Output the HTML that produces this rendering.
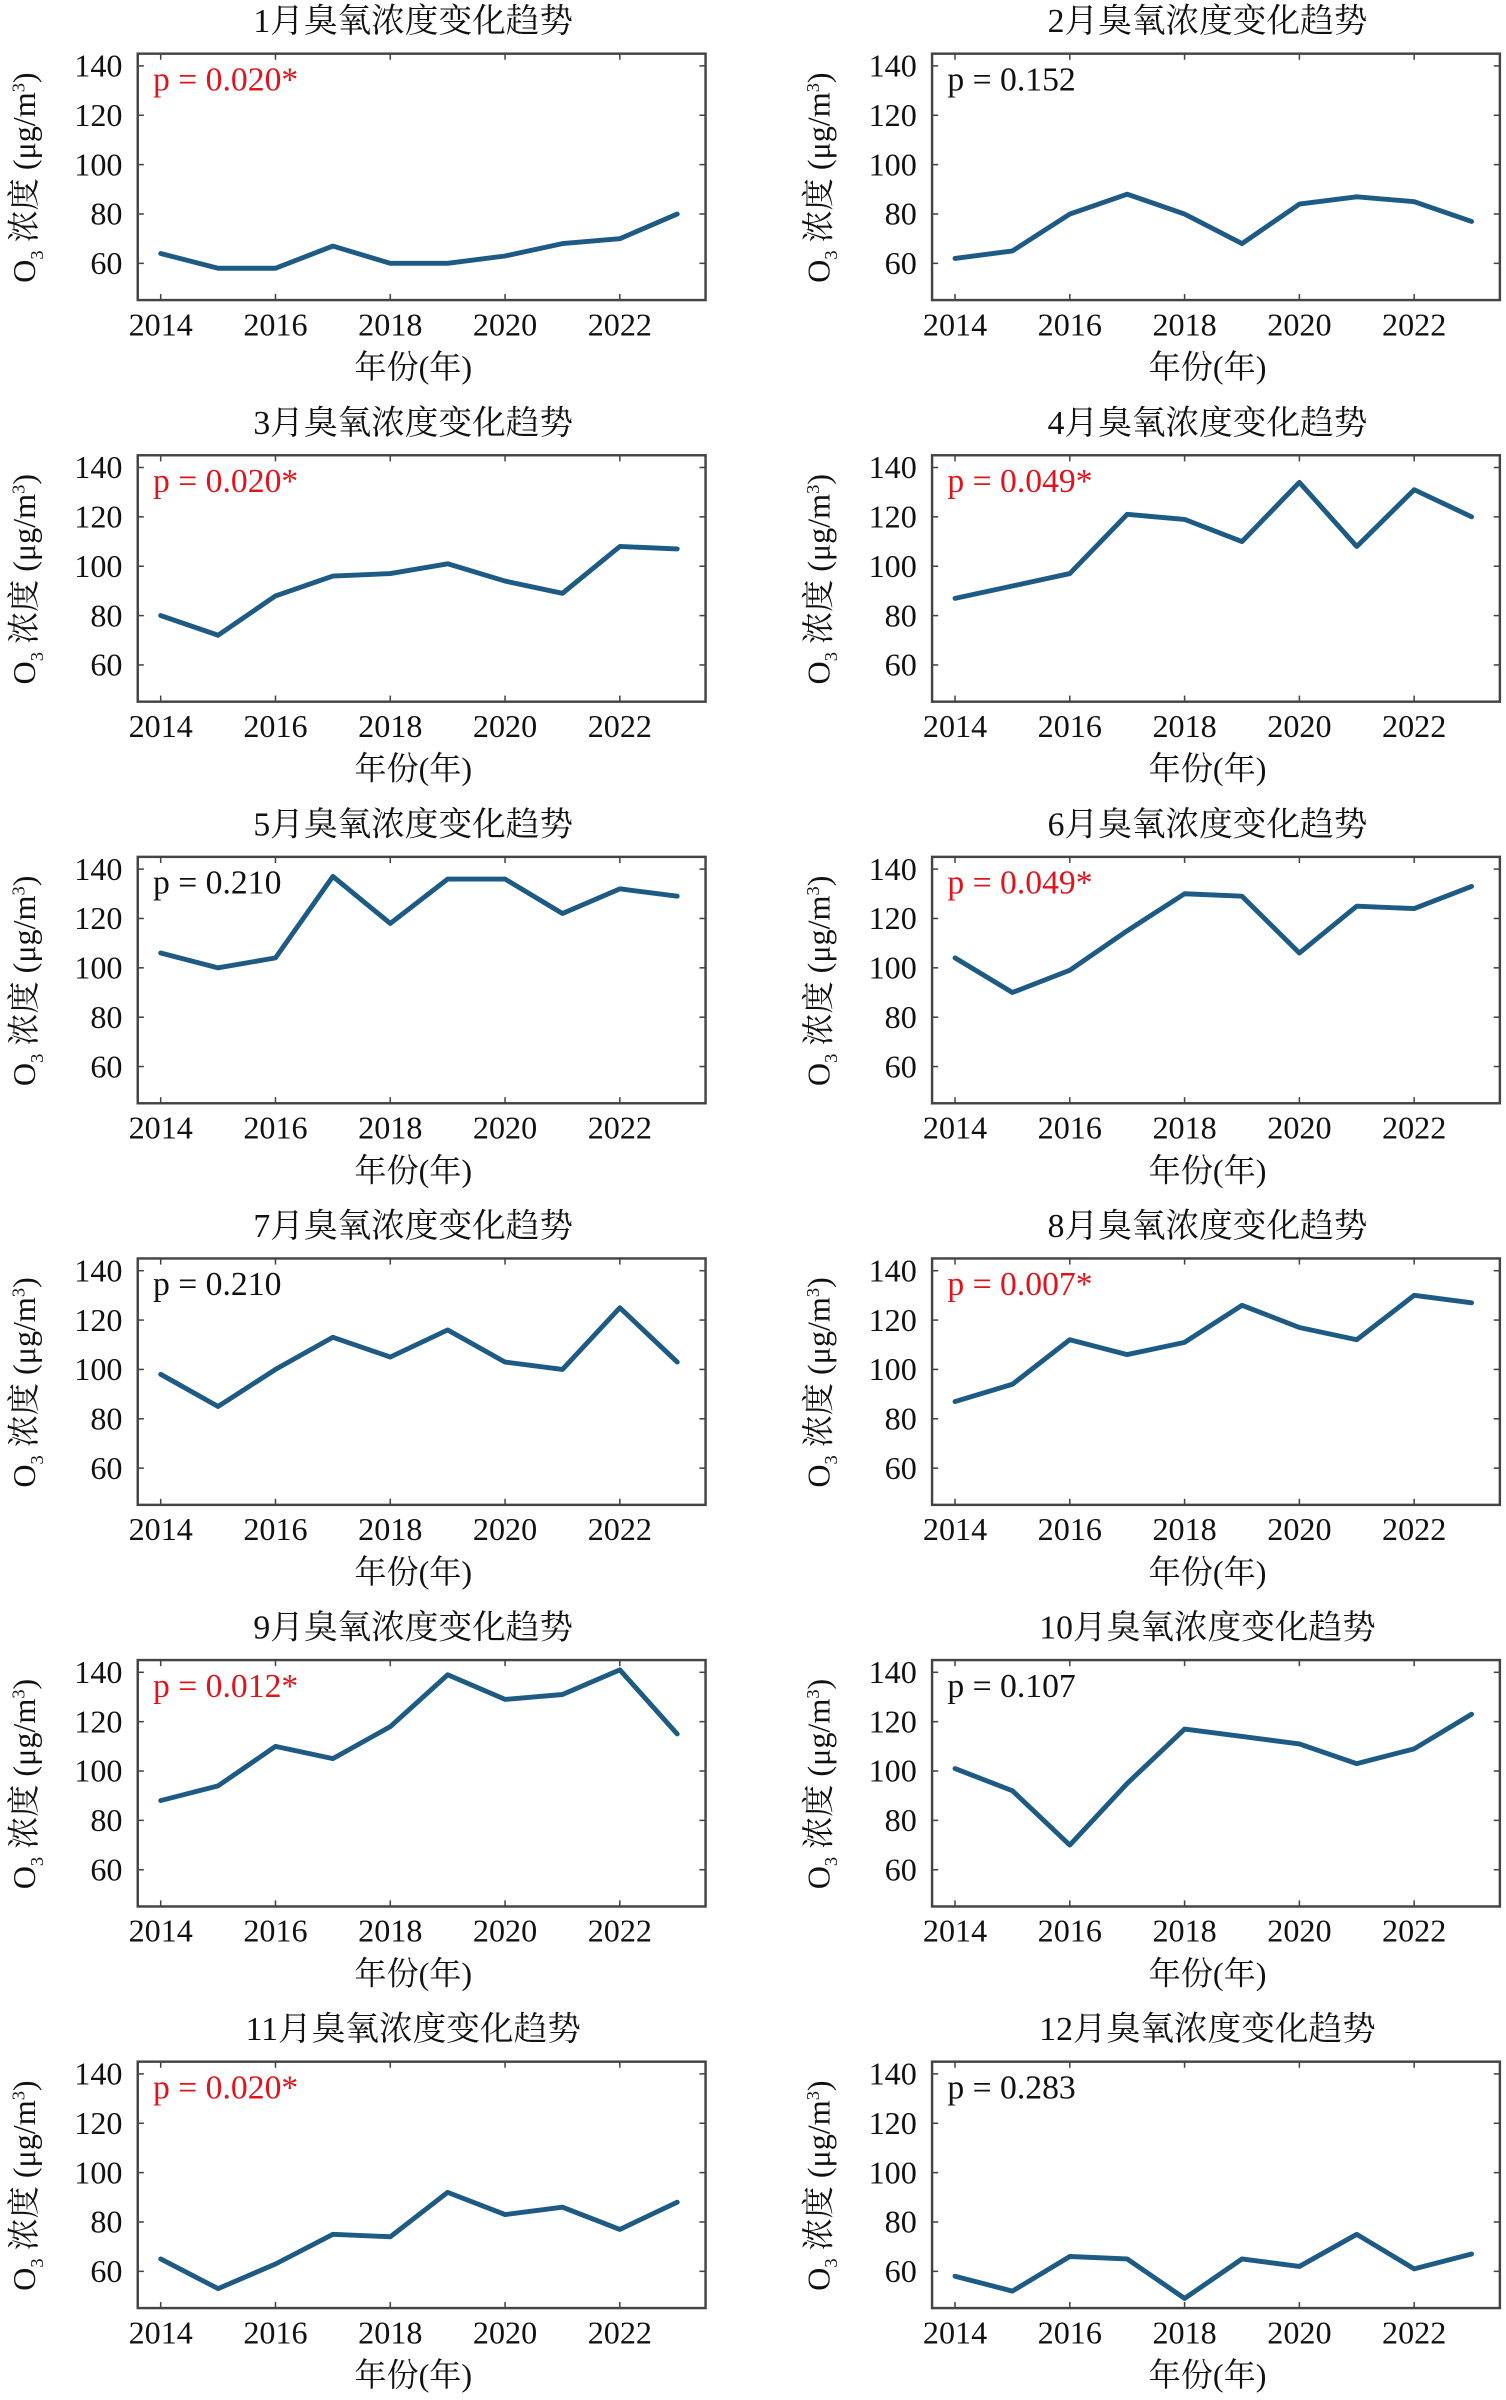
<!DOCTYPE html>
<html><head><meta charset="utf-8"><style>
html,body{margin:0;padding:0;background:#fff;}
svg{display:block;}
text{font-family:"Liberation Serif","Noto Serif CJK SC",serif;}
</style></head><body>
<svg id="chart" width="1506" height="2400" viewBox="0 0 984 1568" xmlns="http://www.w3.org/2000/svg"></svg>
<script>
const years = [2014,2015,2016,2017,2018,2019,2020,2021,2022,2023];
const xTicks = [2014,2016,2018,2020,2022];
const yTicks = [60,80,100,120,140];
const months = ["1月","2月","3月","4月","5月","6月","7月","8月","9月","10月","11月","12月"];
const pValues = ["0.020*","0.152","0.020*","0.049*","0.210","0.049*","0.210","0.007*","0.012*","0.107","0.020*","0.283"];
const significant = [true,false,true,true,false,true,false,true,true,false,true,false];
const jan = [64,58,58,67,60,60,63,68,70,80];
const feb = [62,65,80,88,80,68,84,87,85,77];
const mar = [80,72,88,96,97,101,94,89,108,107];
const apr = [87,92,97,121,119,110,134,108,131,120];
const may = [106,100,104,137,118,136,136,122,132,129];
const jun = [104,90,99,115,130,129,106,125,124,133];
const jul = [98,85,100,113,105,116,103,100,125,103];
const aug = [87,94,112,106,111,126,117,112,130,127];
const sep = [88,94,110,105,118,139,129,131,141,115];
const oct = [101,92,70,95,117,114,111,103,109,123];
const nov = [65,53,63,75,74,92,83,86,77,88];
const dec = [58,52,66,65,49,65,62,75,61,67];
const series = [jan,feb,mar,apr,may,jun,jul,aug,sep,oct,nov,dec];

const NS = "http://www.w3.org/2000/svg";
const svg = document.getElementById("chart");
function mk(tag, attrs, parent, txt){
  const e = document.createElementNS(NS, tag);
  for (const k in attrs) e.setAttribute(k, attrs[k]);
  if (txt !== undefined) e.textContent = txt;
  parent.appendChild(e);
  return e;
}
const slugs = ["jan","feb","mar","apr","may","jun","jul","aug","sep","oct","nov","dec"];
for (let i = 0; i < 12; i++) {
  const col = i % 2, row = Math.floor(i / 2);
  const dx = col * 519, dy = row * 262.4;
  const left = 90 + dx, right = 461 + dx, top = 35 + dy, bottom = 196 + dy;
  const xs = v => 105 + dx + (v - 2014) * 37.5;
  const ys = v => 172 + dy - (v - 60) * 1.6125;
  const g = mk("g", {}, svg);
  
  
  const t = mk("text", {x: 270 + dx, y: 21 + dy, "text-anchor": "middle", "font-size": 22, style: "fill:#111"}, g, months[i] + "臭氧浓度变化趋势");
  
  
  const box = mk("rect", {x: left, y: top, width: right - left, height: bottom - top, fill: "none", stroke: "#444", "stroke-width": 1.6}, g);
  
  
  for (const v of yTicks) {
    const y = ys(v);
    mk("line", {x1: left, x2: left + 4, y1: y, y2: y, stroke: "#444", "stroke-width": 1}, g);
    mk("line", {x1: right, x2: right - 4, y1: y, y2: y, stroke: "#444", "stroke-width": 1}, g);
    const l = mk("text", {x: left - 10, y: y + 7, "text-anchor": "end", "font-size": 21, style: "fill:#111"}, g, String(v));
    
    
  }
  for (const v of xTicks) {
    const x = xs(v);
    mk("line", {x1: x, x2: x, y1: bottom, y2: bottom - 4, stroke: "#444", "stroke-width": 1}, g);
    mk("line", {x1: x, x2: x, y1: top, y2: top + 4, stroke: "#444", "stroke-width": 1}, g);
    const l = mk("text", {x: x, y: 219 + dy, "text-anchor": "middle", "font-size": 21, style: "fill:#111"}, g, String(v));
    
    
  }
  const xl = mk("text", {x: 270 + dx, y: 247 + dy, "text-anchor": "middle", "font-size": 21, style: "fill:#111"}, g, "年份(年)");
  
  
  const yl = mk("text", {transform: "translate(" + (23 + dx) + "," + (116 + dy) + ") rotate(-90)", "text-anchor": "middle", "font-size": 21, style: "fill:#111"}, g);
  
  
  mk("tspan", {}, yl, "O");
  mk("tspan", {"font-size": 12, dy: 5}, yl, "3");
  mk("tspan", {dy: -5}, yl, " 浓度 (μg/m");
  mk("tspan", {"font-size": 12, dy: -7}, yl, "3");
  mk("tspan", {dy: 7}, yl, ")");
  const p = mk("text", {x: 100 + dx, y: 59 + dy, "font-size": 22, style: "fill:" + (significant[i] ? "#e0141c" : "#111")}, g, "p = " + pValues[i]);
  
  
  const pts = series[i].map((v, k) => xs(years[k]).toFixed(1) + "," + ys(v).toFixed(1)).join(" ");
  const line = mk("polyline", {points: pts, fill: "none", stroke: "#1d5b85", "stroke-width": 3.2, "stroke-linejoin": "round", "stroke-linecap": "round"}, g);
  
  
}
</script>
</body></html>
